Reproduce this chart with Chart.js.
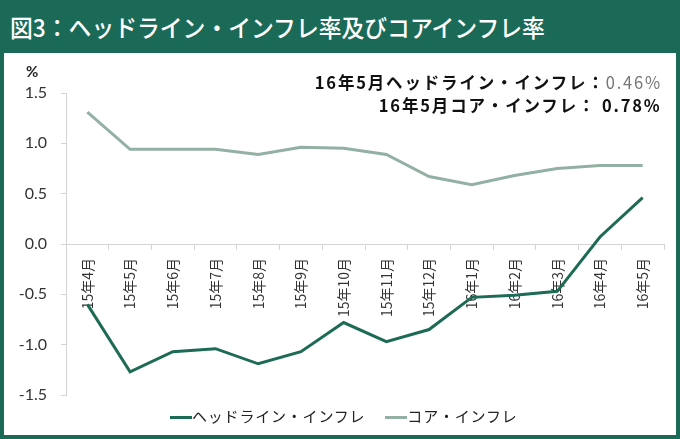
<!DOCTYPE html>
<html>
<head>
<meta charset="utf-8">
<script src="https://cdn.jsdelivr.net/npm/chart.js@4.4.0/dist/chart.umd.min.js"></script>
<style>
  html, body { margin: 0; padding: 0; }
  body { width: 680px; height: 439px; background: #1b6a57; position: relative; overflow: hidden;
         font-family: "Noto Sans CJK JP", sans-serif; }
  #title { position: absolute; left: 10px; top: 10px; color: #fff; font-size: 24px; line-height: 34px; white-space: nowrap;
           font-weight: 500; transform-origin: left center; transform: scaleX(0.95); }
  #panel { position: absolute; left: 4px; top: 53px; width: 672px; height: 382px; background: #fff; }
  #wrap { position: absolute; left: 0; top: 0; width: 680px; height: 439px; }
  .note { position: absolute; right: 18px; font-weight: bold; font-size: 17px; color: #111; white-space: nowrap;
          letter-spacing: 1.9px; transform-origin: right center; transform: scaleX(0.97); }
  #note1 { top: 69px; }
  #note2 { top: 92px; }
  .gray { color: #777; font-weight: normal; }
  #pct { position: absolute; left: 26px; top: 62px; font-family: Lato, sans-serif; font-size: 15px; font-weight: bold; color: #222; }
  #legend { position: absolute; left: 170px; top: 405px; font-size: 15px; letter-spacing: 0.8px; color: #222; white-space: nowrap; }
  #legend span.sw { display: inline-block; width: 22px; height: 3px; vertical-align: middle; margin-right: 0px; }
  #legend span.item { margin-right: 20px; }
</style>
</head>
<body>
<div id="title">図3：ヘッドライン・インフレ率及びコアインフレ率</div>
<div id="panel"></div>
<div id="wrap"><canvas id="lineChart" width="680" height="439"></canvas></div>
<div id="pct">%</div>
<div class="note" id="note1">16年5月ヘッドライン・インフレ：<span class="gray">0.46%</span></div>
<div class="note" id="note2">16年5月コア・インフレ：  0.78%</div>
<div id="legend"></div>
<script>
let months = ['15年4月', '15年5月', '15年6月', '15年7月', '15年8月', '15年9月', '15年10月',
              '15年11月', '15年12月', '16年1月', '16年2月', '16年3月', '16年4月', '16年5月'];

// headline inflation (%)
let headline = [-0.60, -1.27, -1.07, -1.04, -1.19, -1.07, -0.78, -0.97, -0.85, -0.53, -0.51, -0.47, 0.07, 0.46];

// core inflation (%)
let core = [1.31, 0.94, 0.94, 0.94, 0.89, 0.96, 0.95, 0.89, 0.67, 0.59, 0.68, 0.75, 0.78, 0.78];

let seriesNames = ['ヘッドライン・インフレ', 'コア・インフレ'];
let seriesColors = ['#1d6b55', '#93b1a3'];

let axisColor = '#d4d4d4';

let ctx = document.getElementById('lineChart').getContext('2d');
let chart = new Chart(ctx, {
    type: 'line',
    data: {
        labels: months,
        datasets: [{
            label: seriesNames[0],
            data: headline,
            borderColor: seriesColors[0],
            borderWidth: 3,
            pointRadius: 0,
            fill: false,
            tension: 0
        },
        {
            label: seriesNames[1],
            data: core,
            borderColor: seriesColors[1],
            borderWidth: 3,
            pointRadius: 0,
            fill: false,
            tension: 0
        }]
    },
    options: {
        responsive: false,
        maintainAspectRatio: false,
        animation: false,
        layout: { padding: { top: 93, bottom: 44, right: 16, left: 0 } },
        plugins: { legend: { display: false }, tooltip: { enabled: false } },
        scales: {
            x: {
                type: 'category',
                offset: true,
                position: { y: 0 },   // axis sits on the zero line
                border: { display: true, color: axisColor, width: 1 },
                grid: { display: true, drawOnChartArea: false, offset: true, tickLength: 5, color: axisColor },
                ticks: {
                    minRotation: 90, maxRotation: 90, autoSkip: false, padding: 9,
                    color: '#333', font: { family: '"Noto Sans CJK JP"', size: 14 }
                }
            },
            y: {
                min: -1.5, max: 1.5,
                afterFit: s => { s.width = 66; },
                border: { display: true, color: axisColor, width: 1 },
                grid: { display: true, drawOnChartArea: false, tickLength: 5, color: axisColor },
                ticks: {
                    stepSize: 0.5, padding: 14,
                    color: '#333', font: { family: 'Lato', size: 16 },
                    callback: v => v.toFixed(1)
                }
            }
        }
    }
});

// html legend
let legendHtml = '';
for (let i = 0; i < seriesNames.length; ++i) {
    legendHtml += '<span class="item"><span class="sw" style="background:' + seriesColors[i] + '"></span>' + seriesNames[i] + '</span>';
}
document.getElementById('legend').innerHTML = legendHtml;
</script>
</body>
</html>
